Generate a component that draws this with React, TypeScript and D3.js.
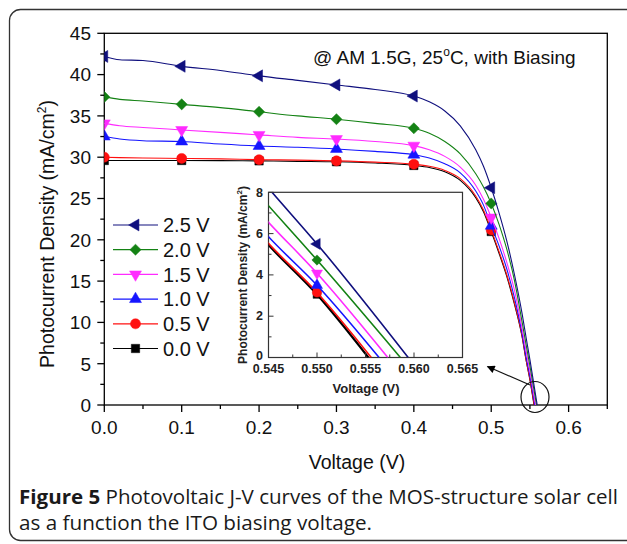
import React from 'react';
import * as d3 from 'd3';

// ---------- data ----------
const VOLTAGE = [0, 0.02, 0.05, 0.1, 0.15, 0.2, 0.25, 0.3, 0.35, 0.4, 0.42, 0.44, 0.46, 0.48, 0.49, 0.5, 0.51, 0.52, 0.53, 0.54, 0.545, 0.55];
const J_2_5V = [42.2, 41.8, 41.7, 41.0, 40.5, 39.85, 39.3, 38.75, 38.2, 37.4, 36.7, 35.6, 33.8, 30.9, 28.9, 26.3, 23.3, 19.9, 15.8, 11.0, 8.2, 5.5];
const J_2_0V = [37.3, 37.0, 36.8, 36.4, 36.0, 35.5, 35.0, 34.6, 34.1, 33.5, 32.9, 31.9, 30.4, 28.0, 26.4, 24.4, 21.9, 18.9, 15.1, 10.0, 7.35, 4.72];
const J_1_5V = [34.1, 33.8, 33.6, 33.3, 33.0, 32.7, 32.4, 32.2, 31.9, 31.4, 30.9, 30.1, 28.8, 26.6, 24.9, 22.7, 20.2, 17.3, 13.9, 9.2, 6.55, 4.08];
const J_1_0V = [32.5, 32.2, 32.0, 31.9, 31.6, 31.35, 31.2, 31.0, 30.7, 30.3, 29.9, 29.2, 28.1, 25.9, 24.2, 21.7, 19.3, 16.5, 13.0, 8.6, 5.85, 3.5];
const J_0_5V = [30.0, 29.95, 29.9, 29.85, 29.8, 29.7, 29.65, 29.55, 29.4, 29.15, 28.9, 28.4, 27.4, 25.3, 23.6, 21.2, 18.6, 15.8, 12.4, 8.3, 5.53, 3.15];
const J_0_0V = [29.6, 29.6, 29.6, 29.6, 29.58, 29.55, 29.5, 29.45, 29.3, 29.0, 28.75, 28.25, 27.2, 25.1, 23.4, 21.0, 18.4, 15.6, 12.2, 8.2, 5.45, 3.05];
const VOC = [0.5594, 0.5586, 0.5573, 0.5564, 0.5556, 0.5553];
const SERIES_LABELS = ['2.5 V', '2.0 V', '1.5 V', '1.0 V', '0.5 V', '0.0 V'];
const SERIES_COLORS = ['#10107e', '#148214', '#ff2bff', '#1515ff', '#ff1010', '#000000'];
const SERIES_SHAPES = ['left', 'diamond', 'down', 'up', 'circle', 'square'];
const MAIN_MARKER_V = [0, 0.1, 0.2, 0.3, 0.4, 0.5];
const INSET_MARKER_V = [0.55];
const MAIN_X_TICKS = [0, 0.1, 0.2, 0.3, 0.4, 0.5, 0.6];
const MAIN_Y_TICKS = [0, 5, 10, 15, 20, 25, 30, 35, 40, 45];
const INSET_X_TICKS = [0.545, 0.55, 0.555, 0.56, 0.565];
const INSET_Y_TICKS = [0, 2, 4, 6, 8];

const J_ALL = [J_2_5V, J_2_0V, J_1_5V, J_1_0V, J_0_5V, J_0_0V];

// ---------- layout ----------
const W = 627, H = 544;
const M = { l: 104.3, r: 607.3, t: 33.3, b: 405 };
const I = { l: 268.5, r: 462.5, t: 192.3, b: 357.5 };
const FONT = '"Liberation Sans", Arial, sans-serif';
const CAP_FONT = '"Open Sans", sans-serif';

const x = d3.scaleLinear().domain([0, 0.65]).range([M.l, M.r]);
const y = d3.scaleLinear().domain([0, 45]).range([M.b, M.t]);
const xi = d3.scaleLinear().domain([0.545, 0.565]).range([I.l, I.r]);
const yi = d3.scaleLinear().domain([0, 8]).range([I.b, I.t]);

type Pt = [number, number];
const seriesPts: Pt[][] = J_ALL.map((js, k) => {
  const pts: Pt[] = VOLTAGE.map((v, i) => [v, js[i]] as Pt);
  pts.push([VOC[k], 0]);
  return pts;
});

function symbolPath(shape: string, size: number) {
  const s = shape === 'circle' ? d3.symbolCircle : shape === 'square' || shape === 'diamond' ? d3.symbolSquare : d3.symbolTriangle;
  return d3.symbol(s, size)() as string;
}
function symbolRot(shape: string) {
  if (shape === 'left') return -90;
  if (shape === 'down') return 180;
  if (shape === 'diamond') return 45;
  return 0;
}
function symbolSize(shape: string, scale: number) {
  const base = shape === 'circle' ? 80 : shape === 'square' ? 70 : 62;
  return base * scale;
}

function Marker({ cx, cy, k, scale = 1 }: { cx: number; cy: number; k: number; scale?: number }) {
  const shape = SERIES_SHAPES[k];
  return (
    <path
      d={symbolPath(shape, symbolSize(shape, scale))}
      transform={`translate(${cx},${cy}) rotate(${symbolRot(shape)})`}
      fill={SERIES_COLORS[k]}
      stroke={SERIES_COLORS[k]}
      strokeWidth={0.5}
    />
  );
}

export default function App() {
  const lineMain = d3.line<Pt>().x(d => x(d[0])).y(d => y(d[1])).curve(d3.curveMonotoneX);
  const lineInset = d3.line<Pt>().x(d => xi(d[0])).y(d => yi(d[1])).curve(d3.curveMonotoneX);
  const order = [5, 4, 3, 2, 1, 0];
  const minorX = [0.05, 0.15, 0.25, 0.35, 0.45, 0.55, 0.65];
  const minorY = d3.range(2.5, 45, 5);
  const minorXi = [0.5475, 0.5525, 0.5575, 0.5625];
  const minorYi = [1, 3, 5, 7];
  const valAt = (k: number, v: number) => J_ALL[k][VOLTAGE.findIndex(u => Math.abs(u - v) < 1e-9)];

  return (
    <svg width={W} height={H} style={{ position: 'absolute', left: 0, top: 0, background: '#fff' }} fontFamily={FONT}>
      <defs>
        <clipPath id="mainClip"><rect x={M.l} y={M.t} width={M.r - M.l} height={M.b - M.t} /></clipPath>
        <clipPath id="insetClip"><rect x={I.l} y={I.t} width={I.r - I.l} height={I.b - I.t} /></clipPath>
        <marker id="arrowHead" viewBox="0 0 10 10" refX="9" refY="5" markerWidth="9" markerHeight="8" markerUnits="userSpaceOnUse" orient="auto">
          <path d="M0,0 L10,5 L0,10 z" fill="#000" />
        </marker>
      </defs>

      {/* outer rounded frame */}
      <rect x={9.5} y={9.5} width={660} height={531} rx={11} fill="none" stroke="#333" strokeWidth={1.3} />

      {/* main frame */}
      <rect x={M.l} y={M.t} width={M.r - M.l} height={M.b - M.t} fill="none" stroke="#000" strokeWidth={1.3} />

      {/* main ticks */}
      {MAIN_X_TICKS.map(t => (
        <g key={'mx' + t}>
          <line x1={x(t)} x2={x(t)} y1={M.b} y2={M.b + 7} stroke="#000" strokeWidth={1.3} />
          <text x={x(t)} y={434} fontSize={19} textAnchor="middle" fill="#111">{t.toFixed(1)}</text>
        </g>
      ))}
      {minorX.map(t => (
        <line key={'mnx' + t} x1={x(t)} x2={x(t)} y1={M.b} y2={M.b + 4} stroke="#000" strokeWidth={1.3} />
      ))}
      {MAIN_Y_TICKS.map(t => (
        <g key={'my' + t}>
          <line x1={M.l - 7} x2={M.l} y1={y(t)} y2={y(t)} stroke="#000" strokeWidth={1.3} />
          <text x={91} y={y(t)} dy="0.36em" fontSize={19} textAnchor="end" fill="#111">{t}</text>
        </g>
      ))}
      {minorY.map(t => (
        <line key={'mny' + t} x1={M.l - 4} x2={M.l} y1={y(t)} y2={y(t)} stroke="#000" strokeWidth={1.3} />
      ))}

      {/* axis titles */}
      <text x={357} y={469} fontSize={19.5} textAnchor="middle" fill="#111">Voltage (V)</text>
      <text transform="translate(54,234) rotate(-90)" fontSize={19.5} textAnchor="middle" fill="#111">
        Photocurrent Density (mA/cm<tspan dy={-8} fontSize={12}>2</tspan><tspan dy={8}>)</tspan>
      </text>

      {/* annotation */}
      <text x={313} y={64} fontSize={19} fill="#111">
        @ AM 1.5G, 25<tspan dy={-8} fontSize={12}>o</tspan><tspan dy={8}>C, with Biasing</tspan>
      </text>

      {/* main series */}
      <g clipPath="url(#mainClip)">
        {order.map(k => (
          <g key={'s' + k}>
            <path d={lineMain(seriesPts[k]) as string} fill="none" stroke={SERIES_COLORS[k]} strokeWidth={1.1} />
            {MAIN_MARKER_V.map(v => (
              <Marker key={v} cx={x(v)} cy={y(valAt(k, v))} k={k} />
            ))}
          </g>
        ))}
      </g>

      {/* legend */}
      {SERIES_LABELS.map((lab, k) => {
        const ly = 225 + k * 24.7;
        return (
          <g key={'lg' + k}>
            <line x1={113} x2={158} y1={ly} y2={ly} stroke={SERIES_COLORS[k]} strokeWidth={1.2} />
            <Marker cx={135.5} cy={ly} k={k} />
            <text x={163} y={ly} dy="0.36em" fontSize={20} fill="#111">{lab}</text>
          </g>
        );
      })}

      {/* inset */}
      <rect x={I.l} y={I.t} width={I.r - I.l} height={I.b - I.t} fill="#fff" stroke="#333" strokeWidth={1.2} />
      <g clipPath="url(#insetClip)">
        {order.map(k => (
          <g key={'is' + k}>
            <path d={lineInset(seriesPts[k].filter(p => p[0] >= 0.54)) as string} fill="none" stroke={SERIES_COLORS[k]} strokeWidth={k === 5 ? 2.2 : 1.6} />
            {INSET_MARKER_V.map(v => (
              <Marker key={v} cx={xi(v)} cy={yi(valAt(k, v))} k={k} scale={0.85} />
            ))}
          </g>
        ))}
      </g>
      {INSET_X_TICKS.map(t => (
        <g key={'ix' + t}>
          <line x1={xi(t)} x2={xi(t)} y1={I.b} y2={I.b - 5} stroke="#333" strokeWidth={1} />
          <text x={xi(t)} y={373} fontSize={12.5} fontWeight="bold" textAnchor="middle" fill="#222">{t.toFixed(3)}</text>
        </g>
      ))}
      {minorXi.map(t => (
        <line key={'imx' + t} x1={xi(t)} x2={xi(t)} y1={I.b} y2={I.b - 3} stroke="#333" strokeWidth={1} />
      ))}
      {INSET_Y_TICKS.map(t => (
        <g key={'iy' + t}>
          <line x1={I.l} x2={I.l + 5} y1={yi(t)} y2={yi(t)} stroke="#333" strokeWidth={1} />
          <text x={263} y={yi(t) - (t === 0 ? 1.5 : 0)} dy="0.34em" fontSize={12.5} fontWeight="bold" textAnchor="end" fill="#222">{t}</text>
        </g>
      ))}
      {minorYi.map(t => (
        <line key={'imy' + t} x1={I.l} x2={I.l + 3} y1={yi(t)} y2={yi(t)} stroke="#333" strokeWidth={1} />
      ))}
      <text x={366} y={393} fontSize={13} fontWeight="bold" textAnchor="middle" fill="#222">Voltage (V)</text>
      <text transform="translate(247,275) rotate(-90)" fontSize={12} fontWeight="bold" textAnchor="middle" fill="#222">
        Photocurrent Density (mA/cm<tspan dy={-5} fontSize={8}>2</tspan><tspan dy={5}>)</tspan>
      </text>

      {/* zoom circle and arrow */}
      <ellipse cx={535} cy={397} rx={14} ry={15.5} fill="none" stroke="#111" strokeWidth={1.2} />
      <line x1={530} y1={385} x2={487.5} y2={366.5} stroke="#111" strokeWidth={1.2} markerEnd="url(#arrowHead)" />

      {/* caption */}
      <text x={19} y={504} fontSize={20} fontFamily={CAP_FONT} fill="#1a1a1a" textLength={599} lengthAdjust="spacingAndGlyphs">
        <tspan fontWeight="bold">Figure 5</tspan> Photovoltaic J-V curves of the MOS-structure solar cell
      </text>
      <text x={19} y={530} fontSize={20} fontFamily={CAP_FONT} fill="#1a1a1a" textLength={353} lengthAdjust="spacingAndGlyphs">
        as a function the ITO biasing voltage.
      </text>
    </svg>
  );
}
